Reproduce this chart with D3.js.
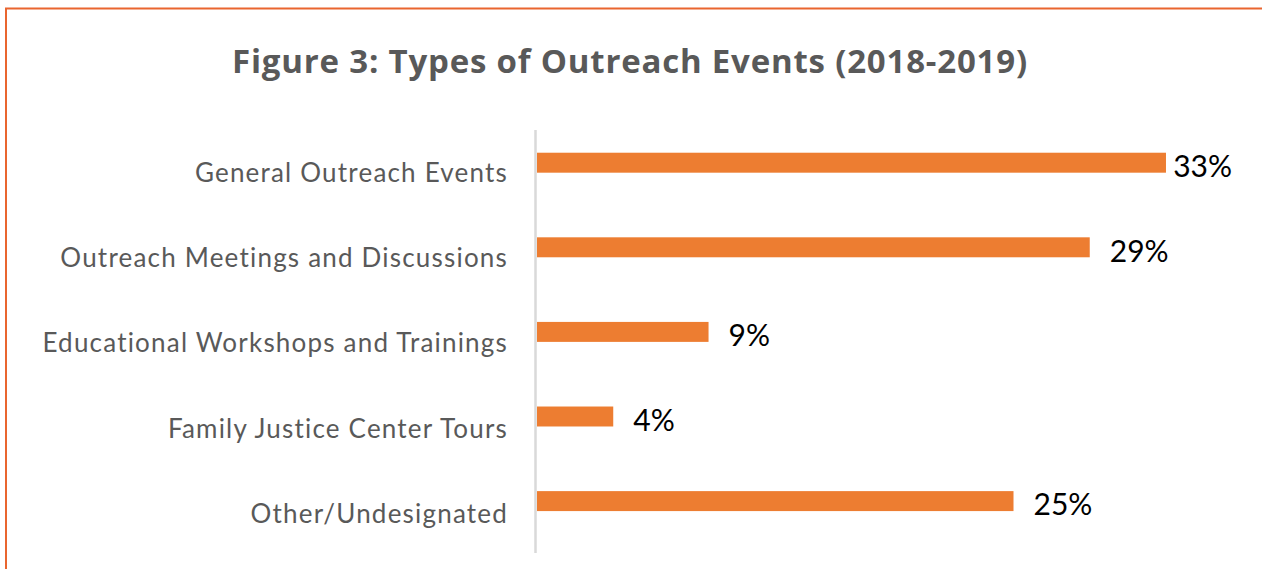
<!DOCTYPE html>
<html>
<head>
<meta charset="utf-8">
<script src="https://cdnjs.cloudflare.com/ajax/libs/d3/7.8.5/d3.min.js"></script>
<style>
  body { margin: 0; background: #fff; }
  svg { display: block; }
</style>
</head>
<body>
<div id="chart"></div>
<script>
var categories = ["General Outreach Events", "Outreach Meetings and Discussions",
                  "Educational Workshops and Trainings", "Family Justice Center Tours",
                  "Other/Undesignated"];
var shares = [33, 29, 9, 4, 25];
var title = "Figure 3: Types of Outreach Events (2018-2019)";

var width = 1262,
    height = 569,
    orange = "#ED7D31",
    labelGrey = "#595959";

var data = categories.map(function(c, i){ return { key: c, value: shares[i] }; });

var svg = d3.select("#chart").append("svg")
    .attr("width", width)
    .attr("height", height);

// frame (only top and left edges fall inside the picture)
svg.append("rect")
    .attr("x", 6)
    .attr("y", 8.5)
    .attr("width", width + 50)
    .attr("height", height + 50)
    .attr("fill", "none")
    .attr("stroke", "#E9652F")
    .attr("stroke-width", 2);

svg.append("text")
    .attr("x", 630)
    .attr("y", 73)
    .attr("text-anchor", "middle")
    .style("font-family", "'Open Sans', sans-serif")
    .style("font-weight", "bold")
    .style("font-size", "33px")
    .style("letter-spacing", "0.8px")
    .style("fill", labelGrey)
    .text(title);

var xScale = d3.scaleLinear()
    .domain([0, 35])
    .range([537, 537 + 35 * 19.06]);

var yScale = d3.scaleBand()
    .domain(categories)
    .range([120.4, 543.4])
    .paddingInner(0.764)
    .paddingOuter(0.382);

// category axis line
svg.append("line")
    .attr("x1", 535.5)
    .attr("x2", 535.5)
    .attr("y1", 130)
    .attr("y2", 553)
    .attr("stroke", "#D9D9D9")
    .attr("stroke-width", 2.5);

svg.selectAll(".bar")
    .data(data)
    .enter().append("rect")
    .attr("class", "bar")
    .attr("x", xScale(0))
    .attr("y", function(d){ return yScale(d.key); })
    .attr("width", function(d){ return xScale(d.value) - xScale(0); })
    .attr("height", yScale.bandwidth())
    .attr("fill", orange);

svg.selectAll(".cat")
    .data(data)
    .enter().append("text")
    .attr("class", "cat")
    .attr("x", 508)
    .attr("y", function(d, i){ return yScale(d.key) + yScale.bandwidth() / 2 + 19 + i * 0.7; })
    .attr("text-anchor", "end")
    .style("font-family", "Lato, 'Open Sans', sans-serif")
    .style("font-size", "26px")
    .style("letter-spacing", "1.2px")
    .style("fill", labelGrey)
    .text(function(d){ return d.key; });

// value labels, pulled back in when they would run past the plot edge
var rightLimit = 1232;
svg.selectAll(".val")
    .data(data)
    .enter().append("text")
    .attr("class", "val")
    .attr("y", function(d){ return yScale(d.key) + yScale.bandwidth() / 2 + 14.3; })
    .style("font-family", "Lato, 'Open Sans', sans-serif")
    .style("font-size", "30px")
    .style("fill", "#000")
    .text(function(d){ return d.value + "%"; })
    .attr("x", function(d){
        var w = this.getComputedTextLength();
        var x = xScale(d.value) + 20;
        return Math.min(x, rightLimit - w);
    });
</script>
</body>
</html>
